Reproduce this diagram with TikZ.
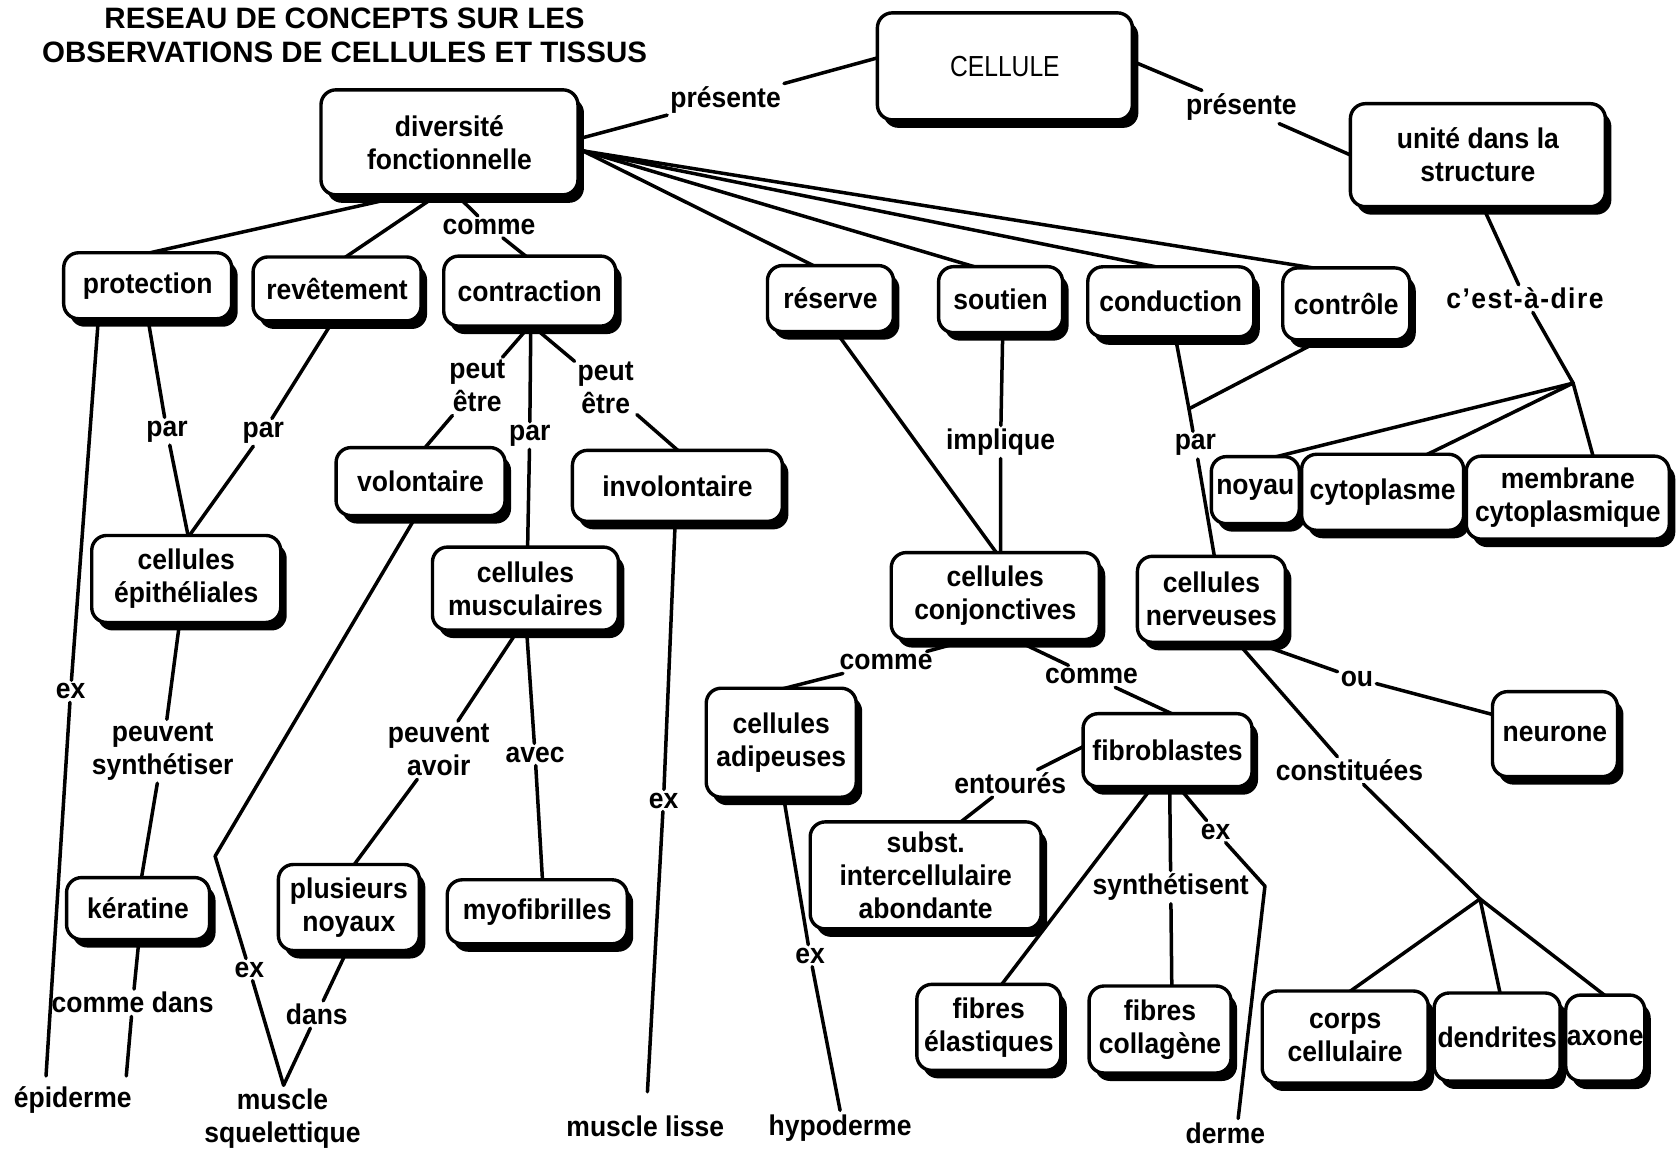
\documentclass[tikz,border=0pt]{standalone}
\usepackage{fontspec}
\setmainfont{Liberation Sans}[FakeStretch=0.93]
\newfontfamily\plainfont{Liberation Sans}[FakeStretch=0.85]
\newfontfamily\titlefont{Liberation Sans}
\usetikzlibrary{shadows,calc,backgrounds}
\begin{document}
\begin{tikzpicture}[x=1.0702pt,y=-1.0702pt,
  every node/.style={font=\fontsize{28.5}{33}\selectfont\bfseries},
  box/.style={draw, line width=3.4pt, rounded corners=15pt, fill=white, align=center, inner sep=1pt,
    drop shadow={shadow xshift=6pt, shadow yshift=-8pt, opacity=1, fill=black}},
  lbl/.style={inner sep=3pt, align=center},
  endtext/.style={inner sep=2pt, align=center},
  link/.style={line width=3.5pt, line cap=round, line join=round}]
\useasboundingbox (0,0) rectangle (1568,1077);

% title
\node[align=center, font=\fontsize{29.5}{33.5}\selectfont\titlefont\bfseries] (title) at (322,33)
  {RESEAU DE CONCEPTS SUR LES\\OBSERVATIONS DE CELLULES ET TISSUS};

% concept boxes
\node[box, minimum width=255pt, minimum height=107pt, font=\fontsize{29}{33}\selectfont\plainfont] (cel) at (939,62) {CELLULE};
\node[box, minimum width=257pt, minimum height=105pt] (div) at (420,133) {diversité\\fonctionnelle};
\node[box, minimum width=255pt, minimum height=103pt] (uni) at (1381,145) {unité dans la\\structure};
\node[box, minimum width=168pt, minimum height=66pt] (pro) at (138,267) {protection};
\node[box, minimum width=168pt, minimum height=64pt] (rev) at (315,270) {revêtement};
\node[box, minimum width=172pt, minimum height=70pt] (con) at (495,272) {contraction};
\node[box, minimum width=126pt, minimum height=66pt] (res) at (776,279) {réserve};
\node[box, minimum width=124pt, minimum height=66pt] (sou) at (935,280) {soutien};
\node[box, minimum width=166pt, minimum height=70pt] (cnd) at (1094,282) {conduction};
\node[box, minimum width=127pt, minimum height=72pt] (ctr) at (1258,284) {contrôle};
\node[box, minimum width=169pt, minimum height=68pt] (vol) at (393,450) {volontaire};
\node[box, minimum width=210pt, minimum height=71pt] (inv) at (633,454) {involontaire};
\node[box, minimum width=189pt, minimum height=87pt] (epi) at (174,541) {cellules\\épithéliales};
\node[box, minimum width=186pt, minimum height=83pt] (mus) at (491,550) {cellules\\musculaires};
\node[box, minimum width=208pt, minimum height=87pt] (cjt) at (930,557) {cellules\\conjonctives};
\node[box, minimum width=148pt, minimum height=86pt] (ner) at (1132,560) {cellules\\nerveuses};
\node[box, minimum width=88pt, minimum height=67pt] (noy) at (1173,458) {noyau};
\node[box, minimum width=162pt, minimum height=76pt] (cyt) at (1292,460) {cytoplasme};
\node[box, minimum width=203pt, minimum height=83pt] (mem) at (1465,465) {membrane\\cytoplasmique};
\node[box, minimum width=150pt, minimum height=109pt] (adi) at (730,694) {cellules\\adipeuses};
\node[box, minimum width=169pt, minimum height=73pt] (fib) at (1091,701) {fibroblastes};
\node[box, minimum width=125pt, minimum height=85pt] (neu) at (1453,686) {neurone};
\node[box, minimum width=231pt, minimum height=107pt] (sub) at (865,818) {subst.\\intercellulaire\\abondante};
\node[box, minimum width=143pt, minimum height=62pt] (ker) at (129,849) {kératine};
\node[box, minimum width=141pt, minimum height=86pt] (plu) at (326,848) {plusieurs\\noyaux};
\node[box, minimum width=180pt, minimum height=64pt] (myo) at (502,852) {myofibrilles};
\node[box, minimum width=144pt, minimum height=86pt] (ela) at (924,960) {fibres\\élastiques};
\node[box, minimum width=142pt, minimum height=87pt] (col) at (1084,962) {fibres\\collagène};
\node[box, minimum width=166pt, minimum height=92pt] (crp) at (1257,969) {corps\\cellulaire};
\node[box, minimum width=126pt, minimum height=88pt] (den) at (1399,969) {dendrites};
\node[box, minimum width=79pt, minimum height=86pt] (axo) at (1500,970) {axone};

% examples at the foot
\node[endtext] (epd) at (68,1028) {épiderme};
\node[endtext] (msq) at (264,1045) {muscle\\squelettique};
\node[endtext] (msl) at (603,1052) {muscle lisse};
\node[endtext] (hyp) at (785,1054) {hypoderme};
\node[endtext] (der) at (1145,1059) {derme};

% linking words
\node[lbl] (pres1) at (678,93) {présente};
\node[lbl] (pres2) at (1160,100) {présente};
\node[lbl] (comme1) at (457,212) {comme};
\node[lbl] (cad) at (1425,279) {\addfontfeature{LetterSpace=5}c'est-à-dire};
\node[lbl] (par1) at (156,403) {par};
\node[lbl] (par2) at (246,404) {par};
\node[lbl] (pe1) at (446,361) {peut\\être};
\node[lbl] (pe2) at (566,362) {peut\\être};
\node[lbl] (par4) at (495,407) {par};
\node[lbl] (ex1) at (66,646) {ex};
\node[lbl] (ps) at (152,702) {peuvent\\synthétiser};
\node[lbl] (pa) at (410,701) {peuvent\\avoir};
\node[lbl] (avec) at (500,705) {avec};
\node[lbl] (ex3) at (620,748) {ex};
\node[lbl] (cd) at (124,937) {comme dans};
\node[lbl] (ex2) at (233,906) {ex};
\node[lbl] (dans) at (296,948) {dans};
\node[lbl] (imp) at (935,413) {implique};
\node[lbl] (par3) at (1117,416) {par};
\node[lbl] (cm2) at (828,619) {comme};
\node[lbl] (cm3) at (1020,632) {comme};
\node[lbl] (ou) at (1268,634) {ou};
\node[lbl] (ent) at (944,732) {entourés};
\node[lbl] (cst) at (1261,720) {constituées};
\node[lbl] (ex4) at (1136,777) {ex};
\node[lbl] (syn) at (1094,829) {synthétisent};
\node[lbl] (ex5) at (757,893) {ex};

% branching points
\coordinate (J1) at (1470,358);
\coordinate (J2) at (1111,382);
\coordinate (J3) at (1383,840);
\coordinate (B1) at (201,800);
\coordinate (B2) at (1182,828);
\coordinate (C0) at ($(con.south)+(1,-3)$);
\coordinate (M1) at ($(msq.north)+(1,-1)$);

\begin{pgfonlayer}{background}
\draw[link] ($(div.east)+(-2,-3)$) -- (pres1) -- ($(cel.west)+(2,-8)$);
\draw[link] ($(cel.east)+(-2,-5)$) -- (pres2) -- ($(uni.west)+(2,0)$);
\draw[link] ($(div.south)+(-32,-3)$) -- ($(pro.north)+(-4,3)$);
\draw[link] ($(div.south)+(-9,-3)$) -- ($(rev.north)+(6,3)$);
\draw[link] ($(div.south)+(5,-3)$) -- (comme1) -- ($(con.north)+(-2,3)$);
\draw[link] ($(div.east)+(-3,5)$) -- ($(res.north)+(-13,3)$);
\draw[link] ($(div.east)+(-3,6)$) -- ($(sou.north)+(-20,3)$);
\draw[link] ($(div.east)+(-3,7)$) -- ($(cnd.north)+(-7,3)$);
\draw[link] ($(div.east)+(-3,7)$) -- ($(ctr.north)+(-22,3)$);
% structure of the cell
\draw[link] ($(uni.south)+(4,-3)$) -- (cad) -- (J1);
\draw[link] (J1) -- ($(noy.north)+(14,3)$);
\draw[link] (J1) -- ($(cyt.north)+(39,3)$);
\draw[link] (J1) -- ($(mem.north)+(24,3)$);
% nerve cells
\draw[link] ($(cnd.south)+(4,-3)$) -- (J2);
\draw[link] ($(ctr.south)+(-21,-3)$) -- (J2);
\draw[link] (J2) -- (par3) -- ($(ner.north)+(3,3)$);
\draw[link] ($(ner.south)+(36,-3)$) -- (ou) -- ($(neu.west)+(3,-18)$);
\draw[link] ($(ner.south)+(23,-3)$) -- (cst) -- (J3);
\draw[link] (J3) -- ($(crp.north)+(3,3)$);
\draw[link] (J3) -- ($(den.north)+(3,3)$);
\draw[link] (J3) -- ($(axo.north)+(1,3)$);
% connective cells
\draw[link] ($(sou.south)+(2,-3)$) -- (imp) -- ($(cjt.north)+(5,3)$);
\draw[link] ($(res.south)+(4,-3)$) -- ($(cjt.north)+(2,3)$);
\draw[link] ($(cjt.south)+(-18,-3)$) -- (cm2) -- ($(adi.north)+(-2,3)$);
\draw[link] ($(cjt.south)+(15,-3)$) -- (cm3) -- ($(fib.north)+(7,3)$);
\draw[link] ($(fib.west)+(3,-4)$) -- (ent) -- ($(sub.north)+(31,3)$);
\draw[link] ($(fib.south)+(-13,-3)$) -- ($(ela.north)+(11,3)$);
\draw[link] ($(fib.south)+(2,-3)$) -- (syn) -- ($(col.north)+(11,3)$);
\draw[link] ($(fib.south)+(9,-3)$) -- (ex4) -- (B2) -- ($(der.north)+(12,-2)$);
\draw[link] ($(adi.south)+(2,-3)$) -- (ex5) -- ($(hyp.north)+(0,-2)$);
% muscle cells
\draw[link] (C0) -- (pe1) -- ($(vol.north)+(3,3)$);
\draw[link] (C0) -- (par4) -- ($(mus.north)+(2,3)$);
\draw[link] (C0) -- (pe2) -- ($(inv.north)+(2,3)$);
\draw[link] ($(vol.south)+(-3,-3)$) -- (B1) -- (ex2) -- (M1);
\draw[link] ($(inv.south)+(-2,-3)$) -- (ex3) -- ($(msl.north)+(2,-20)$);
\draw[link] ($(mus.south)+(-6,-3)$) -- (pa) -- ($(plu.north)+(4,3)$);
\draw[link] ($(mus.south)+(1,-3)$) -- (avec) -- ($(myo.north)+(5,3)$);
\draw[link] ($(plu.south)+(-1,-3)$) -- (dans) -- (M1);
% epithelial cells
\draw[link] ($(pro.south)+(-46,-3)$) -- (ex1) -- ($(epd.north)+(-25,-8)$);
\draw[link] ($(pro.south)+(0,-3)$) -- (par1) -- ($(epi.north)+(2,3)$);
\draw[link] ($(rev.south)+(-3,-3)$) -- (par2) -- ($(epi.north)+(2,3)$);
\draw[link] ($(epi.south)+(-6,-3)$) -- (ps) -- ($(ker.north)+(3,3)$);
\draw[link] ($(ker.south)+(1,-3)$) -- (cd) -- ($(epd.north)+(50,-8)$);
\end{pgfonlayer}
\end{tikzpicture}
\end{document}
